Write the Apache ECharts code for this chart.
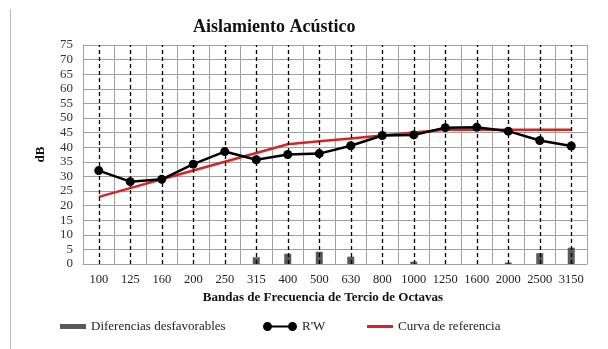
<!DOCTYPE html>
<html>
<head>
<meta charset="utf-8">
<script src="https://cdn.jsdelivr.net/npm/echarts@6/dist/echarts.min.js"></script>
<style>
  html, body { margin: 0; padding: 0; background: #fff; }
  #chart { width: 608px; height: 349px; }
</style>
</head>
<body>
<div id="chart"></div>
<script>
// Third-octave band centre frequencies (Hz)
const bands = ['100','125','160','200','250','315','400','500','630','800','1000','1250','1600','2000','2500','3150'];
// Measured apparent sound reduction index R'W (dB)
const rwValues = [32, 28.2, 29, 34.2, 38.5, 35.7, 37.5, 37.8, 40.5, 44, 44.2, 46.7, 46.8, 45.5, 42.3, 40.4];
// Shifted reference curve (dB)
const refValues = [23, 26, 29, 32, 35, 38, 41, 42, 43, 44, 45, 46, 46, 46, 46, 46];
// Unfavourable deviations (dB); null where there is none
const diffValues = [null, null, null, null, null, 2.3, 3.5, 4.2, 2.5, null, 0.8, null, null, 0.5, 3.7, 5.6];

const serif = '"Liberation Serif", "DejaVu Serif", serif';
const gridColor = '#a0a0a0';

const chart = echarts.init(document.getElementById('chart'), null, { renderer: 'canvas' });

const rwIcon = 'path://M0,4.5A4.5,4.5 0 1,1 9,4.5A4.5,4.5 0 1,1 0,4.5Z' +
  'M25,4.5A4.5,4.5 0 1,1 34,4.5A4.5,4.5 0 1,1 25,4.5Z' +
  'M8.6,3.6L25.4,3.6L25.4,5.4L8.6,5.4Z';

const legendText = { fontFamily: serif, fontSize: 13, color: '#222' };

chart.setOption({
  animation: false,
  backgroundColor: '#fff',
  title: {
    text: 'Aislamiento Acústico',
    left: 188,
    top: 13,
    textStyle: { fontFamily: serif, fontWeight: 'bold', fontSize: 18, color: '#111' }
  },
  legend: [
    {
      left: 55, top: 315,
      data: [{ name: 'Diferencias desfavorables', icon: 'rect' }],
      itemWidth: 26, itemHeight: 5,
      textStyle: legendText
    },
    {
      left: 258, top: 315,
      data: [{ name: "R'W", icon: rwIcon }],
      itemWidth: 34, itemHeight: 9,
      textStyle: legendText
    },
    {
      left: 362, top: 315,
      data: [{ name: 'Curva de referencia', icon: 'rect' }],
      itemWidth: 26, itemHeight: 3,
      textStyle: legendText
    }
  ],
  grid: { left: 83, right: 21, top: 45, bottom: 85 },
  xAxis: {
    type: 'category',
    data: bands,
    boundaryGap: true,
    name: 'Bandas de Frecuencia de Tercio de Octavas',
    nameLocation: 'middle',
    nameGap: 27,
    nameTextStyle: { fontFamily: serif, fontWeight: 'bold', fontSize: 13, color: '#111', padding: [0, 24, 0, 0] },
    axisLine: { lineStyle: { color: gridColor, width: 1 } },
    axisTick: { show: false },
    axisLabel: { fontFamily: serif, fontSize: 12.5, color: '#222', margin: 9, interval: 0 },
    splitLine: { show: true, interval: 0, lineStyle: { color: gridColor, width: 1 } }
  },
  yAxis: {
    type: 'value',
    min: 0, max: 75, interval: 5,
    name: 'dB',
    nameLocation: 'middle',
    nameGap: 36,
    nameRotate: 90,
    nameTextStyle: { fontFamily: serif, fontWeight: 'bold', fontSize: 13, color: '#111' },
    axisLine: { show: true, lineStyle: { color: gridColor, width: 1 } },
    axisTick: { show: false },
    axisLabel: { fontFamily: serif, fontSize: 13, color: '#333', margin: 10 },
    splitLine: { show: true, lineStyle: { color: gridColor, width: 1 } }
  },
  graphic: [
    {
      type: 'line',
      shape: { x1: 10.5, y1: 9, x2: 10.5, y2: 349 },
      style: { stroke: '#bdbdbd', lineWidth: 1 }
    },
    {
      type: 'line',
      shape: { x1: 587.5, y1: 45, x2: 587.5, y2: 264 },
      style: { stroke: gridColor, lineWidth: 1 }
    }
  ],
  series: [
    {
      name: 'Diferencias desfavorables',
      type: 'bar',
      data: diffValues,
      barWidth: 7,
      itemStyle: { color: '#5a5a5a' },
      z: 3,
      markLine: {
        silent: true,
        symbol: 'none',
        label: { show: false },
        lineStyle: { color: '#000', type: [4, 3], width: 1.3 },
        data: bands.map(b => ({ xAxis: b }))
      }
    },
    {
      name: 'Curva de referencia',
      type: 'line',
      data: refValues,
      symbol: 'none',
      lineStyle: { color: '#d42424', width: 2.5 },
      itemStyle: { color: '#d42424' },
      z: 4
    },
    {
      name: "R'W",
      type: 'line',
      data: rwValues,
      symbol: 'circle',
      symbolSize: 9,
      lineStyle: { color: '#000', width: 2.5 },
      itemStyle: { color: '#000' },
      z: 5
    }
  ]
});
</script>
</body>
</html>
